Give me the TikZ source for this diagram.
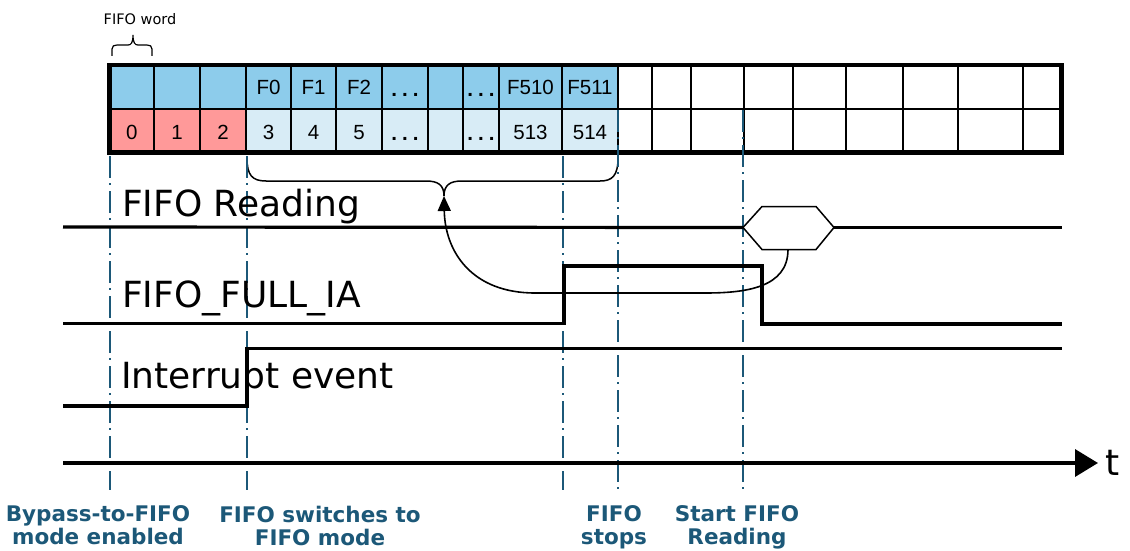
\documentclass[tikz,border=0pt]{standalone}
\usepackage{fontspec}
\setmainfont{DejaVu Sans}
\newfontfamily\cellfont{Liberation Sans}
\usetikzlibrary{arrows.meta}
\definecolor{topblue}{RGB}{141,204,235}
\definecolor{lightblue}{RGB}{216,236,246}
\definecolor{cellred}{RGB}{255,153,153}
\definecolor{mk}{RGB}{28,88,120}
\begin{document}
\begin{tikzpicture}[x=1pt,y=-1pt,
  cell/.style={font=\cellfont\fontsize{20.5}{24}\selectfont, anchor=base, inner sep=0pt},
  gridline/.style={line width=2pt},
  sig/.style={line width=3.2pt, line join=miter},
  sigtext/.style={font=\fontsize{36}{40}\selectfont, anchor=base west, inner sep=0pt},
  marker/.style={draw=mk, line width=2pt, dash pattern=on 22pt off 5pt on 2pt off 6pt},
  evlabel/.style={font=\bfseries\fontsize{21.5}{23}\selectfont, text=mk, align=center, anchor=north, inner sep=0pt},
  thinline/.style={line width=1.5pt},
  conn/.style={line width=1.6pt, -{Triangle[length=15pt,width=13pt]}},
  axis/.style={line width=3.5pt, -{Triangle[length=23pt,width=27pt]}}
]
\useasboundingbox (0,0) rectangle (1130,551);

% ---- FIFO table ----
\fill[topblue] (109.5,65) rectangle (618,109);
\fill[cellred] (109.5,109) rectangle (246,152.5);
\fill[lightblue] (246,109) rectangle (618,152.5);
\draw[gridline] (109.5,109) -- (1061.5,109);
\foreach \x in {154,200,246,291,336,382,428,463,499,562,618,652,691,744,793,846,903,958,1023}
  \draw[gridline] (\x,65) -- (\x,152.5);
\draw[line width=4.5pt] (109.5,65) rectangle (1061.5,152.5);

% top row texts
\node[cell] (f0) at (268.5,95) {F0};
\node[cell] (f1) at (313.5,95) {F1};
\node[cell] (f2) at (359,95) {F2};
\node[cell] (fd1) at (405,96.5) {\textbf{.}\hspace{5pt}\textbf{.}\hspace{5pt}\textbf{.}};
\node[cell] (fd2) at (481,96.5) {\textbf{.}\hspace{5pt}\textbf{.}\hspace{5pt}\textbf{.}};
\node[cell] (f510) at (530.5,95) {F510};
\node[cell] (f511) at (590,95) {F511};
% bottom row texts
\node[cell] (n0) at (131.8,139) {0};
\node[cell] (n1) at (177,139) {1};
\node[cell] (n2) at (223,139) {2};
\node[cell] (n3) at (268.5,139) {3};
\node[cell] (n4) at (313.5,139) {4};
\node[cell] (n5) at (359,139) {5};
\node[cell] (nd1) at (405,140.5) {\textbf{.}\hspace{5pt}\textbf{.}\hspace{5pt}\textbf{.}};
\node[cell] (nd2) at (481,140.5) {\textbf{.}\hspace{5pt}\textbf{.}\hspace{5pt}\textbf{.}};
\node[cell] (n513) at (530.5,139) {513};
\node[cell] (n514) at (590,139) {514};

% FIFO word label and brace
\node[font=\fontsize{14.5}{17}\selectfont, anchor=base, inner sep=0pt] (fword) at (140,25) {FIFO word};
\draw[line width=1.2pt] (112,56) -- (112,49) .. controls (112,46) and (114,45) .. (117,45) -- (128,45)
  .. controls (131,45) and (133,43) .. (133,35) .. controls (133,43) and (135,45) .. (138,45)
  -- (147,45) .. controls (150,45) and (152,46) .. (152,49) -- (152,56);

% big brace
\coordinate (bracetip) at (444,196);
\draw[thinline] (247,158) .. controls (247,175) and (252,181) .. (266,181) -- (426,181)
  .. controls (438,181) and (444,185) .. (bracetip) .. controls (444,185) and (450,181) .. (462,181)
  -- (600,181) .. controls (612,181) and (618,176) .. (618,158);

% ---- event markers ----
\draw[marker] (110,156) -- (110,490);
\draw[marker] (247,156) -- (247,490);
\draw[marker] (563,156) -- (563,490);
\draw[marker] (618,110) -- (618,490);
\draw[marker] (743,110) -- (743,490);

% ---- signals ----
\node[sigtext] (rd) at (122,216) {FIFO Reading};
\node[sigtext] (full) at (122,307) {FIFO\_FULL\_IA};
\node[sigtext] (irq) at (121,388) {Interrupt event};

\coordinate (hexl) at (743,227.5);
\coordinate (hextl) at (762,206.5);
\coordinate (hextr) at (816,206.5);
\coordinate (hexr) at (834,227.5);
\coordinate (hexbr) at (816,249.5);
\coordinate (hexbl) at (762,249.5);
\coordinate (hexb) at (788,249.5);
\draw[sig] (63,227) -- (hexl);
\draw[sig] (hexr) -- (1062,227.5);
\draw[thinline, fill=white] (hexl) -- (hextl) -- (hextr) -- (hexr) -- (hexbr) -- (hexbl) -- cycle;

\draw[sig] (63,323.5) -- (564,323.5) -- (564,266) -- (762,266) -- (762,324) -- (1062,324);
\draw[sig] (63,406) -- (247,406) -- (247,348.5) -- (1062,348.5);

% curved arrow from hexagon to brace
\draw[conn] (hexb) .. controls (788,288) and (745,293) .. (705,293) -- (535,293)
  .. controls (472,293) and (445,252) .. (bracetip);

% time axis
\draw[axis] (63,463) -- (1098,463);
\node[sigtext] (tlab) at (1105,475) {t};

% ---- event labels ----
\node[evlabel] (ev1) at (98,505) {Bypass-to-FIFO\\mode enabled};
\node[evlabel] (ev2) at (320,506) {FIFO switches to\\FIFO mode};
\node[evlabel] (ev3) at (614,505.5) {FIFO\\stops};
\node[evlabel] (ev4) at (737,505.5) {Start FIFO\\Reading};
\end{tikzpicture}
\end{document}
